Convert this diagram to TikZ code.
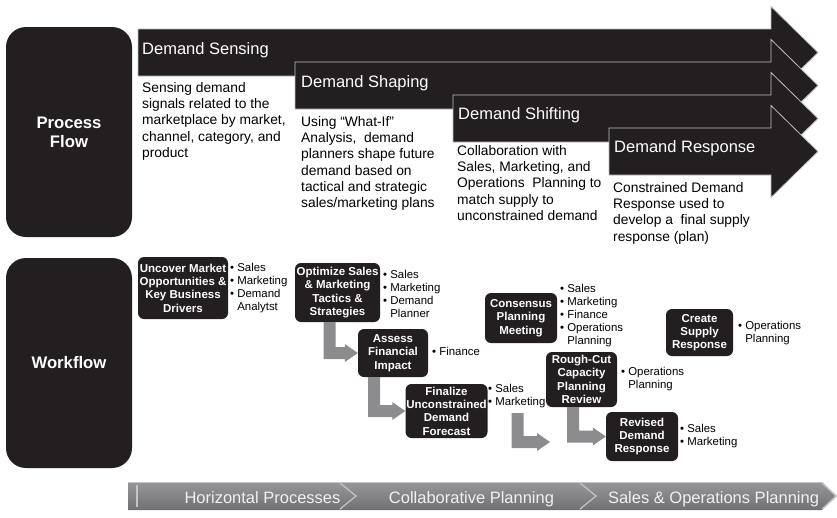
\documentclass[tikz,border=0pt]{standalone}
\usepackage{fontspec}
\setmainfont{Liberation Sans}
\usetikzlibrary{calc}

\definecolor{ink}{RGB}{35,31,32}
\definecolor{shaftgray}{RGB}{140,140,143}
\definecolor{bartop}{RGB}{150,150,152}
\definecolor{barbot}{RGB}{112,112,114}
\definecolor{barlight}{RGB}{196,196,198}

\tikzset{
  sidebox/.style={fill=ink, rounded corners=20pt, minimum width=126pt, minimum height=210pt,
    text=white, align=center, inner sep=0pt, font=\bfseries\fontsize{16.7}{19}\selectfont},
  flowband/.style={fill=ink, draw=black!25, line width=0.8pt},
  flowhead/.style={anchor=base west, inner sep=0pt, text=white, font=\fontsize{16.5}{19}\selectfont},
  flowtext/.style={anchor=north west, inner sep=0pt, align=left, font=\fontsize{13.8}{16.3}\selectfont},
  taskbox/.style={fill=ink, rounded corners=6pt, text=white, align=center, inner sep=0pt,
    font=\bfseries\fontsize{11.5}{13.3}\selectfont},
  rolelist/.style={anchor=north west, inner sep=0pt, align=left, font=\fontsize{11.4}{12.9}\selectfont},
  lshaft/.style={fill=shaftgray},
  barseg/.style={top color=bartop, bottom color=barbot, middle color=barmid},
  bartext/.style={text=white!94!black, inner sep=0pt, anchor=base, font=\fontsize{16.5}{19}\selectfont},
  barsep/.style={draw=barlight, line width=1.2pt},
}
\definecolor{barmid}{RGB}{132,132,134}

% band of the process flow: left x, top y (y grows downward)
\newcommand\flowarrow[2]{%
  \fill[flowband] (#1,#2) -- (771,#2) -- (771,#2+23.5-46) -- (818,#2+23.5)
    -- (771,#2+23.5+46) -- (771,#2+47) -- (#1,#2+47) -- cycle;}

% elbow connector: from the top of a vertical shaft down and right to a tip
\newcommand\elbow[2]{%
  \fill[lshaft] let \p1=(#1), \p2=(#2) in
    (\x1-6pt,\y1) -- (\x1+6pt,\y1) -- (\x1+6pt,\y2+6pt) -- (\x2-13pt,\y2+6pt)
    -- (\x2-13pt,\y2+9pt) -- (\x2,\y2) -- (\x2-13pt,\y2-9pt) -- (\x2-13pt,\y2-6pt)
    -- (\x1-6pt,\y2-6pt) -- cycle;}

\newcommand\cont{\hphantom{• }}

\begin{document}
\begin{tikzpicture}[x=1pt,y=-1pt]
\useasboundingbox (0,0) rectangle (837,517);

% ---- row labels
\node[sidebox] (pflow) at (69,132) {Process\\Flow};
\node[sidebox] (wflow) at (69,363) {Workflow};

% ---- process flow bands
\flowarrow{138}{29}
\flowarrow{295}{62}
\flowarrow{453}{95}
\flowarrow{609}{128}

\node[flowhead] (hsense) at (142,54) {Demand Sensing};
\node[flowhead] (hshape) at (301,87) {Demand Shaping};
\node[flowhead] (hshift) at (458,119) {Demand Shifting};
\node[flowhead] (hresp)  at (614,152) {Demand Response};

\node[flowtext] (tsense) at (142,82) {Sensing demand\\signals related to the\\marketplace by market,\\channel, category, and\\product};
\node[flowtext] (tshape) at (301,116) {Using “What-If”\\Analysis,\ \ demand\\planners shape future\\demand based on\\tactical and strategic\\sales/marketing plans};
\node[flowtext] (tshift) at (457,145) {Collaboration with\\Sales, Marketing, and\\Operations\ \ Planning to\\match supply to\\unconstrained demand};
\node[flowtext] (tresp)  at (613,182) {Constrained Demand\\Response used to\\develop a\ \ final supply\\response (plan)};

% ---- workflow tasks
\node[taskbox, minimum width=90pt, minimum height=62pt] (t1) at (183,288) {Uncover Market\\Opportunities \&\\Key Business\\Drivers};
\node[taskbox, minimum width=85pt, minimum height=59pt] (t2) at (337.5,292.5) {Optimize Sales\\\& Marketing\\Tactics \&\\Strategies};
\node[taskbox, minimum width=70pt, minimum height=48pt] (t3) at (393,353) {Assess\\Financial\\Impact};
\node[taskbox, minimum width=82pt, minimum height=54pt] (t4) at (446.5,411) {Finalize\\Unconstrained\\Demand\\Forecast};
\node[taskbox, minimum width=72pt, minimum height=50pt] (t5) at (521,318) {Consensus\\Planning\\Meeting};
\node[taskbox, minimum width=71pt, minimum height=55pt] (t6) at (581.5,379.5) {Rough-Cut\\Capacity\\Planning\\Review};
\node[taskbox, minimum width=67pt, minimum height=47pt] (t7) at (699.5,332.5) {Create\\Supply\\Response};
\node[taskbox, minimum width=72pt, minimum height=49pt] (t8) at (642,436.5) {Revised\\Demand\\Response};

% ---- roles
\node[rolelist] (r1) at (230,263) {• Sales\\• Marketing\\• Demand\\\cont Analytst};
\node[rolelist] (r2) at (383,270) {• Sales\\• Marketing\\• Demand\\\cont Planner};
\node[rolelist] (r3) at (432,347) {• Finance};
\node[rolelist] (r4) at (488,384) {• Sales\\• Marketing};
\node[rolelist] (r5) at (560,284) {• Sales\\• Marketing\\• Finance\\• Operations\\\cont Planning};
\node[rolelist] (r6) at (621,367) {• Operations\\\cont Planning};
\node[rolelist] (r7) at (738,321) {• Operations\\\cont Planning};
\node[rolelist] (r8) at (680,424) {• Sales\\• Marketing};

% ---- elbow connectors
\coordinate (free1) at (517.5,413);
\coordinate (free2) at (550,442);
\elbow{[xshift=-8pt]t2.south}{t3.west}
\elbow{[xshift=-19pt]t3.south}{t4.west}
\elbow{free1}{free2}
\elbow{[xshift=-8.5pt]t6.south}{t8.west}

% ---- bottom chevron bar
\shade[barseg] (128,482) -- (340,482) -- (356,496) -- (340,510) -- (128,510) -- cycle;
\shade[barseg] (340,482) -- (580,482) -- (596,496) -- (580,510) -- (340,510) -- (356,496) -- cycle;
\shade[barseg] (580,482) -- (822,482) -- (837,496) -- (822,510) -- (580,510) -- (596,496) -- cycle;
\draw[barsep] (137,485) -- (137,507);
\draw[barsep] (340,483) -- (356,496) -- (340,509);
\draw[barsep] (580,483) -- (596,496) -- (580,509);
\draw[barsep] (822,483) -- (836,496) -- (822,509);
\draw[draw=barlight, line width=0.6pt] (128,482.5) -- (822,482.5);

\node[bartext] (b1) at (262.5,503) {Horizontal Processes};
\node[bartext] (b2) at (471.5,503) {Collaborative Planning};
\node[bartext] (b3) at (713.5,503) {Sales \& Operations Planning};
\end{tikzpicture}
\end{document}
